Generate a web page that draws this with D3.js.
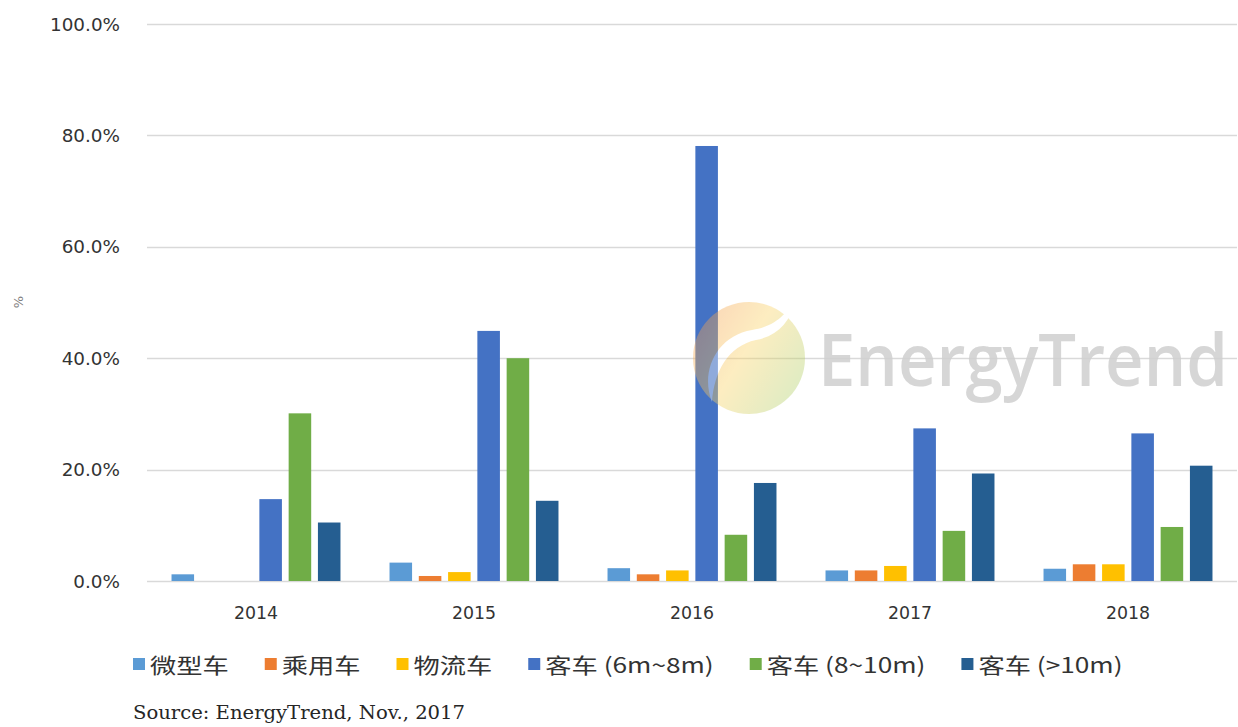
<!doctype html>
<html>
<head>
<meta charset="UTF-8">
<style>
    body {
        margin: 0;
        background-color: white;
    }
</style>
<script src="https://d3js.org/d3.v7.min.js"></script>
</head>
<body>
<svg width="1238" height="727"></svg>
<script>
// data
var years = ["2014", "2015", "2016", "2017", "2018"];
var seriesNames = ["微型车", "乘用车", "物流车", "客车 (6m~8m)", "客车 (8~10m)", "客车 (>10m)"];
var seriesColors = ["#5B9BD5", "#ED7D31", "#FFC000", "#4472C4", "#70AD47", "#255E91"];
var micro = [0.012, 0.033, 0.023, 0.019, 0.022];
var passenger = [0, 0.009, 0.012, 0.019, 0.030];
var logistics = [0, 0.016, 0.019, 0.027, 0.030];
var bus6to8 = [0.147, 0.449, 0.781, 0.274, 0.265];
var bus8to10 = [0.301, 0.400, 0.083, 0.090, 0.097];
var busOver10 = [0.105, 0.144, 0.176, 0.193, 0.207];
var yTicks = [0, 0.2, 0.4, 0.6, 0.8, 1.0];

var allSeries = [micro, passenger, logistics, bus6to8, bus8to10, busOver10];

var svg = d3.select("svg");
// note: "top" is taken by window.top, so plotTop
var plotLeft = 147, plotRight = 1237, plotTop = 24, plotBottom = 581;

// the source picture is a bit wider than tall, stretch text to match
function stretch(sel, k) {
    sel.each(function() {
        var w = this.getComputedTextLength();
        d3.select(this).attr("textLength", w * k).attr("lengthAdjust", "spacingAndGlyphs");
    });
}

var x0 = d3.scaleBand().domain(years).range([plotLeft, plotRight]).paddingInner(0.225).paddingOuter(0.1125);
var x1 = d3.scaleBand().domain(d3.range(seriesNames.length)).range([0, x0.bandwidth()]).paddingInner(0.23);
var y = d3.scaleLinear().domain([0, 1]).range([plotBottom, plotTop]);

// gridlines
svg.append("g")
    .selectAll("line")
    .data(yTicks)
    .enter().append("line")
    .attr("x1", plotLeft)
    .attr("x2", plotRight)
    .attr("y1", function(d) { return Math.round(y(d)) + 0.5; })
    .attr("y2", function(d) { return Math.round(y(d)) + 0.5; })
    .attr("stroke", "#d9d9d9")
    .attr("stroke-width", 1.5);

// y axis labels
var yAxis = svg.append("g")
    .attr("transform", "translate(" + (plotLeft - 27) + ",0)")
    .call(d3.axisLeft(y).tickValues(yTicks).tickSize(0).tickPadding(0).tickFormat(d3.format(".1%")));
yAxis.select(".domain").remove();
yAxis.selectAll("text")
    .attr("font-family", "DejaVu Sans")
    .attr("font-size", "17px")
    .attr("fill", "#333333")
    .attr("dy", "0.36em")
    .call(stretch, 1.08);

svg.append("text")
    .attr("transform", "translate(23,302) rotate(-90)")
    .attr("text-anchor", "middle")
    .attr("font-family", "DejaVu Sans")
    .attr("font-size", "13px")
    .attr("fill", "#7f7f7f")
    .text("%");

// bars
var groups = svg.append("g")
    .selectAll("g")
    .data(years)
    .enter().append("g")
    .attr("transform", function(d) { return "translate(" + x0(d) + ",0)"; });

groups.selectAll("rect")
    .data(function(d, i) { return allSeries.map(function(s, j) { return { j: j, v: s[i] }; }); })
    .enter().append("rect")
    .filter(function(d) { return d.v > 0; })
    .attr("x", function(d) { return x1(d.j); })
    .attr("y", function(d) { return y(d.v); })
    .attr("width", x1.bandwidth())
    .attr("height", function(d) { return plotBottom - y(d.v); })
    .attr("fill", function(d) { return seriesColors[d.j]; });

// x axis labels
var xAxis = svg.append("g")
    .attr("transform", "translate(0," + 607 + ")")
    .call(d3.axisBottom(x0).tickSize(0).tickPadding(0));
xAxis.select(".domain").remove();
xAxis.selectAll("text")
    .attr("font-family", "DejaVu Sans")
    .attr("font-size", "17px")
    .attr("fill", "#333333")
    .call(stretch, 1.02);

// watermark logo + text, drawn over the bars
var defs = svg.append("defs");
var grad = defs.append("linearGradient")
    .attr("id", "logoGrad")
    .attr("x1", "0%").attr("y1", "20%")
    .attr("x2", "100%").attr("y2", "80%");
grad.append("stop").attr("offset", "0%").attr("stop-color", "#f59a4c");
grad.append("stop").attr("offset", "45%").attr("stop-color", "#fbd465");
grad.append("stop").attr("offset", "100%").attr("stop-color", "#a9d06a");

var logo = svg.append("g").attr("opacity", 0.4);
logo.append("circle")
    .attr("cx", 749)
    .attr("cy", 358)
    .attr("r", 56)
    .attr("fill", "url(#logoGrad)");
logo.append("path")
    .attr("d", "M712,402 C700,372 716,336 752,330 C778,326 786,312 796,300 C790,322 778,336 756,340 C728,346 714,372 712,402 Z")
    .attr("fill", "white");

// squeeze the big word with a transform so its box stays inside the picture
var mark = svg.append("text")
    .attr("font-family", "Open Sans")
    .attr("font-weight", 600)
    .attr("font-size", "72px")
    .attr("fill", "#cfcfcf")
    .attr("fill-opacity", 0.85)
    .text("EnergyTrend");
var markW = mark.node().getComputedTextLength();
mark.attr("transform", "translate(818,386) scale(" + (410 / markW) + ",1)");

// legend
var legend = svg.append("g");
var lx = 133;
seriesNames.forEach(function(name, i) {
    legend.append("rect")
        .attr("x", lx)
        .attr("y", 658)
        .attr("width", 12)
        .attr("height", 12)
        .attr("fill", seriesColors[i]);
    var t = legend.append("text")
        .attr("x", lx + 17)
        .attr("y", 673)
        .attr("font-family", "Noto Sans CJK SC")
        .attr("font-size", "21px")
        .attr("fill", "#333333")
        .text(name)
        .call(stretch, 1.25);
    lx = lx + 17 + (+t.attr("textLength")) + 36;
});

svg.append("text")
    .attr("x", 133)
    .attr("y", 719)
    .attr("font-family", "DejaVu Serif")
    .attr("font-size", "18px")
    .attr("fill", "#262626")
    .attr("textLength", 332)
    .attr("lengthAdjust", "spacingAndGlyphs")
    .text("Source: EnergyTrend, Nov., 2017");
</script>
</body>
</html>
